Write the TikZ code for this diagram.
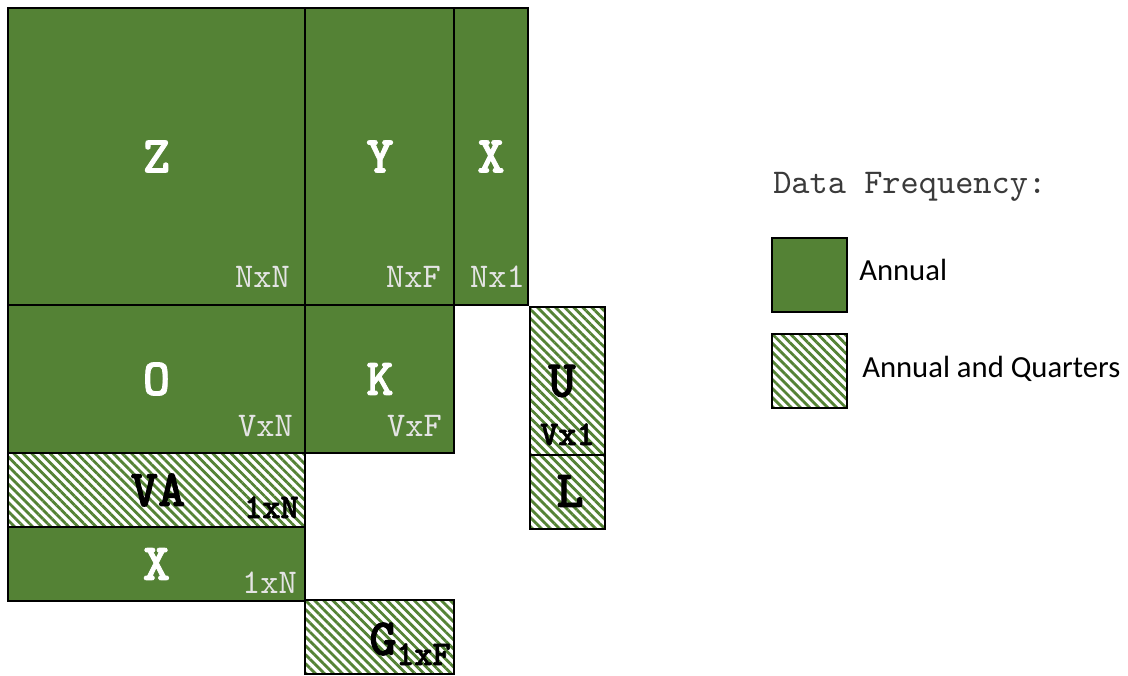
\documentclass[tikz,border=0pt]{standalone}
\usepackage{fontspec}
\setmainfont{Carlito}
\newfontfamily\monofont{lmmono10-regular}[Extension=.otf, BoldFont=lmmonolt10-bold, BoldFeatures={FakeBold=1.6}]
\usetikzlibrary{patterns.meta}
\definecolor{annualgreen}{HTML}{548235}
\definecolor{dimlabel}{HTML}{E4E4E4}
\definecolor{legendtext}{HTML}{3A3A3A}

\tikzset{
  annual/.style={fill=annualgreen, draw=black, line width=1.2pt},
  quarterly/.style={pattern={Lines[angle=-45,distance=4.8pt,line width=2.1pt]},
                    pattern color=annualgreen, draw=black, line width=1.2pt},
  bigname/.style={font=\monofont\bfseries\fontsize{39}{39}\selectfont, text=white, inner sep=0pt},
  bigdark/.style={bigname, text=black},
  dimtag/.style={font=\monofont\fontsize{26}{26}\selectfont, text=dimlabel, inner sep=0pt, anchor=base east},
  darktag/.style={font=\monofont\bfseries\fontsize{26}{26}\selectfont, text=black, inner sep=0pt, anchor=base east},
  legendhead/.style={font=\monofont\fontsize{26}{26}\selectfont, text=legendtext, inner sep=0pt, anchor=base west},
  legendlabel/.style={font=\fontsize{23}{23}\selectfont, text=black, inner sep=0pt, anchor=base west},
}

\begin{document}
\begin{tikzpicture}[x=0.75pt, y=-0.75pt]
  \useasboundingbox (0,0) rectangle (1128,675);

  % annual blocks
  \path[annual] (8,8) rectangle (305,305);
  \path[annual] (305,8) rectangle (454,305);
  \path[annual] (454,8) rectangle (528,305);
  \path[annual] (8,305) rectangle (305,453);
  \path[annual] (305,305) rectangle (454,453);
  \path[annual] (8,527) rectangle (305,601);

  % annual and quarterly blocks
  \path[quarterly] (8,453) rectangle (305,527);
  \path[quarterly] (305,600) rectangle (454,674);
  \path[quarterly] (530,307) rectangle (605,455);
  \path[quarterly] (530,455) rectangle (605,529);

  % block names
  \node[bigname] (zname) at (156.5,156.5) {Z};
  \node[bigname] (yname) at (380,156.5) {Y};
  \node[bigname] (xname) at (491,156.5) {X};
  \node[bigname] (oname) at (156.5,379) {O};
  \node[bigname] (kname) at (380,379) {K};
  \node[bigdark] (vaname) at (158,490) {VA};
  \node[bigname] (xrow) at (156.5,564) {X};
  \node[bigdark] (gname) at (383,639) {G};
  \node[bigdark] (uname) at (562,381) {U};
  \node[bigdark] (lname) at (570,491) {L};

  % dimension tags
  \node[dimtag] (nxn) at (290,287) {NxN};
  \node[dimtag] (nxf) at (441,287) {NxF};
  \node[dimtag] (nx1) at (525,287) {Nx1};
  \node[dimtag] (vxn) at (293,436) {VxN};
  \node[dimtag] (vxf) at (442,436) {VxF};
  \node[dimtag] (onexn) at (297,593) {1xN};
  \node[darktag] (vaxn) at (299,518) {1xN};
  \node[darktag] (vx1) at (595,445) {Vx1};
  \node[darktag] (onexf) at (451,665) {1xF};

  % legend
  \node[legendhead] (legtitle) at (773,193) {Data Frequency:};
  \path[annual] (772,238) rectangle (847,312);
  \path[quarterly] (772,334) rectangle (847,408);
  \node[legendlabel] (legannual) at (859,280) {Annual};
  \node[legendlabel] (legquarter) at (862,377) {Annual and Quarters};
\end{tikzpicture}
\end{document}
